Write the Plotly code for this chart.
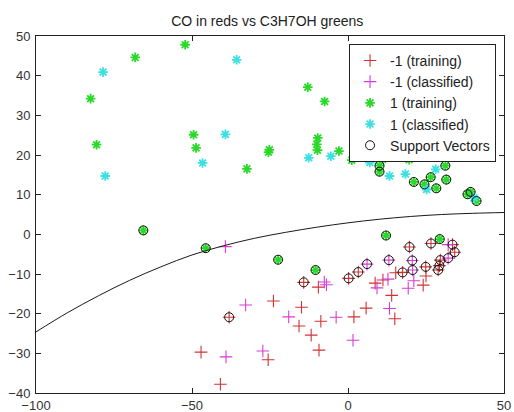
import plotly.graph_objects as go

# Class -1, training samples (red +)
neg_train_x = [-47.1, -40.9, -25.6, -23.9, -15.7, -14.9, -11.8, -9.3, -8.7, -9.5,
               1.9, 5.8, 8.7, 11.2, 15.0, 14.0, 15.3, 25.0, 24.1,
               -38.1, -14.2, 0.2, 3.3, 19.7, 26.6, 33.5, 34.2, 29.6, 29.3, 28.9, 24.9, 17.5]
neg_train_y = [-29.7, -37.8, -31.6, -16.8, -23.1, -18.4, -25.4, -29.2, -21.9, -13.3,
               -20.8, -18.6, -12.3, -11.5, -21.3, -15.4, -9.7, -10.5, -12.8,
               -20.9, -12.1, -11.1, -9.5, -3.2, -2.3, -2.6, -4.5, -6.5, -7.9, -9.0, -8.2, -9.6]

# Class -1, classified samples (magenta +)
neg_cls_x = [-39.3, -32.8, -39.1, -27.3, -19.0, -7.6, -6.9, -3.8, 1.6, 9.3,
             12.8, 13.3, 19.3, 21.1, 32.1, 32.1, 6.1, 13.1, 20.6, 20.7]
neg_cls_y = [-3.1, -17.8, -30.9, -29.4, -20.8, -12.0, -12.7, -20.9, -26.7, -13.5,
             -11.3, -18.7, -13.6, -11.7, -2.6, -6.0, -7.5, -6.5, -6.6, -9.0]

# Class 1, training samples (green *)
pos_train_x = [-52.2, -68.2, -82.5, -80.6, -49.5, -48.7, -25.2, -25.5, -32.4, -12.9,
               -7.5, -9.7, -10.0, -9.8, -2.9, 1.2, 4.4, 11.1, 19.6,
               -65.6, -45.6, -22.4, -10.4, 12.2, 29.4, 10.1, 10.1, 21.1, 24.5,
               26.5, 28.3, 31.2, 31.5, 38.3, 39.3, 41.2]
pos_train_y = [47.8, 44.6, 34.2, 22.6, 25.1, 21.8, 21.3, 20.7, 16.5, 37.1,
               33.5, 24.3, 22.7, 21.2, 21.0, 18.7, 20.4, 18.9, 18.8,
               1.0, -3.5, -6.4, -9.0, -0.3, -1.2, 17.3, 15.8, 13.2, 12.6,
               14.4, 11.6, 17.3, 13.8, 10.1, 10.7, 8.4]

# Class 1, classified samples (cyan *)
pos_cls_x = [-78.5, -77.8, -35.7, -39.3, -46.6, -12.6, -5.5, 7.0, 13.3, 18.4, 28.1, 25.2, 40.4]
pos_cls_y = [40.9, 14.7, 44.0, 25.2, 18.0, 19.3, 19.7, 18.1, 14.7, 15.2, 16.4, 11.3, 9.2]

# Support vectors (black o)
sv_x = [-65.6, -45.6, -22.4, -10.4, 12.2, 29.4, 10.1, 10.1, 21.1, 24.5, 26.5, 28.3,
        31.2, 31.5, 38.3, 39.3, 41.2,
        -38.1, -14.2, 0.2, 3.3, 6.1, 13.1, 19.7, 26.6, 33.5, 34.2, 32.1, 29.6, 29.3,
        28.9, 24.9, 20.6, 20.7, 17.5]
sv_y = [1.0, -3.5, -6.4, -9.0, -0.3, -1.2, 17.3, 15.8, 13.2, 12.6, 14.4, 11.6,
        17.3, 13.8, 10.1, 10.7, 8.4,
        -20.9, -12.1, -11.1, -9.5, -7.5, -6.5, -3.2, -2.3, -2.6, -4.5, -6.0, -6.5, -7.9,
        -9.0, -8.2, -6.6, -9.0, -9.6]

# Decision boundary
boundary_x = [-100, -90, -80, -70, -60, -50, -40, -30, -20, -10, 0, 10, 20, 30, 40, 50]
boundary_y = [-24.6, -19.8, -15.5, -11.6, -8.2, -5.2, -2.9, -1.0, 0.5, 1.8, 2.9, 3.8, 4.5, 5.0, 5.3, 5.5]

x_ticks = [-100, -50, 0, 50]
y_ticks = [-40, -30, -20, -10, 0, 10, 20, 30, 40, 50]

FONT = "Liberation Sans, Arial, sans-serif"

fig = go.Figure()

fig.add_trace(go.Scatter(
    x=neg_train_x, y=neg_train_y, mode="markers", name="-1 (training)",
    marker=dict(symbol="cross-thin-open", size=9, color="#d23232",
                line=dict(width=1.1, color="#d23232")),
))
fig.add_trace(go.Scatter(
    x=neg_cls_x, y=neg_cls_y, mode="markers", name="-1 (classified)",
    marker=dict(symbol="cross-thin-open", size=9, color="#d83cd8",
                line=dict(width=1.1, color="#d83cd8")),
))
fig.add_trace(go.Scatter(
    x=pos_train_x, y=pos_train_y, mode="markers", name="1 (training)",
    marker=dict(symbol="asterisk-open", size=8, color="#2ad82a",
                line=dict(width=1.8, color="#2ad82a")),
))
fig.add_trace(go.Scatter(
    x=pos_cls_x, y=pos_cls_y, mode="markers", name="1 (classified)",
    marker=dict(symbol="asterisk-open", size=8, color="#3ce0e0",
                line=dict(width=1.8, color="#3ce0e0")),
))
fig.add_trace(go.Scatter(
    x=sv_x, y=sv_y, mode="markers", name="Support Vectors",
    marker=dict(symbol="circle-open", size=9, color="#111111",
                line=dict(width=1, color="#111111")),
))
fig.add_trace(go.Scatter(
    x=boundary_x, y=boundary_y, mode="lines", showlegend=False,
    line=dict(color="#1a1a1a", width=1, shape="spline"),
))

axis_common = dict(
    showgrid=False, zeroline=False, showline=True, linecolor="#222222", linewidth=1,
    mirror="allticks", ticks="inside", ticklen=5, tickcolor="#222222",
    tickfont=dict(family=FONT, size=13, color="#333333"), automargin=False,
)

fig.update_layout(
    width=514, height=412,
    margin=dict(l=36, r=10, t=36, b=19),
    paper_bgcolor="white", plot_bgcolor="white",
    title=dict(text="CO in reds vs C3H7OH greens", x=0.52, xanchor="center",
               y=0.950, yanchor="middle",
               font=dict(family=FONT, size=14, color="#222222")),
    xaxis=dict(range=[-100, 50], tickvals=x_ticks, ticklabelstandoff=0, **axis_common),
    yaxis=dict(range=[-40, 50], tickvals=y_ticks, ticklabelstandoff=2, **axis_common),
    legend=dict(
        x=0.983, y=0.978, xanchor="right", yanchor="top",
        bgcolor="white", bordercolor="#222222", borderwidth=1,
        font=dict(family=FONT, size=14, color="#222222"),
        tracegroupgap=0,
    ),
)

fig.write_html("out.html")
